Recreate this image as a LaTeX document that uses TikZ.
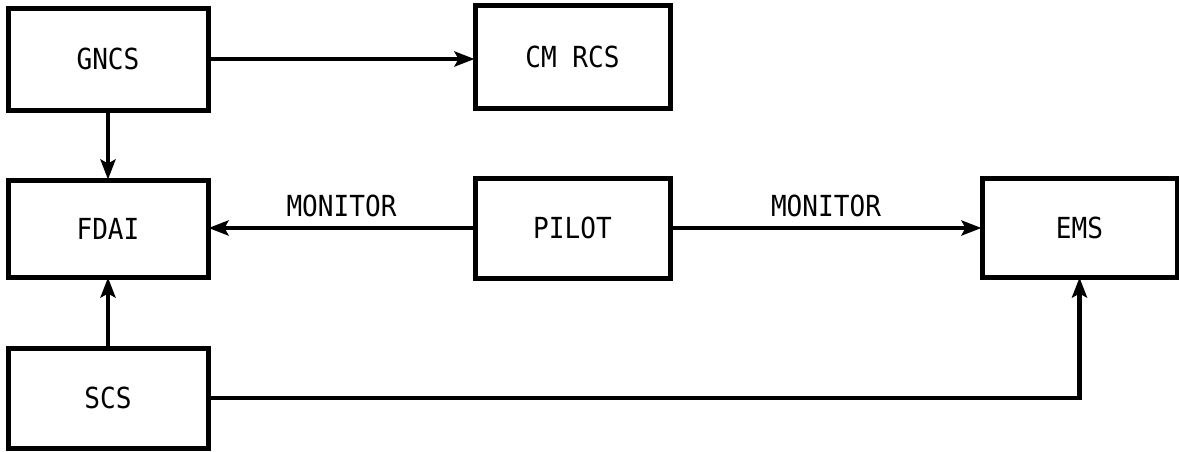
\documentclass[tikz,border=0pt]{standalone}
\usepackage{fontspec}
\setmainfont{DejaVu Sans Mono}[FakeStretch=0.9]
\usetikzlibrary{arrows.meta}
\begin{document}
\begin{tikzpicture}[x=1pt,y=-1pt,
  blk/.style={draw, line width=5pt, rectangle, inner sep=0pt, font=\fontsize{29}{32}\selectfont},
  conn/.style={line width=4.5pt, shorten >=-2pt, -{Stealth[length=20pt,width=15pt,inset=4pt]}},
  lbl/.style={font=\fontsize{29}{32}\selectfont, inner sep=0pt}]
\useasboundingbox (0,0) rectangle (1179,451);
\node[blk, minimum width=200pt, minimum height=102pt] (gncs) at (108,59) {GNCS};
\node[blk, minimum width=195pt, minimum height=103pt] (cmrcs) at (572.5,56.5) {CM RCS};
\node[blk, minimum width=200pt, minimum height=97pt] (fdai) at (108,228.5) {FDAI};
\node[blk, minimum width=195pt, minimum height=100pt] (pilot) at (572.5,228) {PILOT};
\node[blk, minimum width=195pt, minimum height=99pt] (ems) at (1079.5,227.5) {EMS};
\node[blk, minimum width=200pt, minimum height=100pt] (scs) at (108,398) {SCS};
\draw[conn] (gncs.east) -- (gncs.east -| cmrcs.west);
\draw[conn] (gncs.south) -- (fdai.north);
\draw[conn] (pilot.west) -- node[lbl, above=9pt] (m1) {MONITOR} (pilot.west -| fdai.east);
\draw[conn] (pilot.east) -- node[lbl, above=9pt] (m2) {MONITOR} (pilot.east -| ems.west);
\draw[conn] (scs.north) -- (fdai.south);
\draw[conn] (scs.east) -| (ems.south);
\end{tikzpicture}
\end{document}
